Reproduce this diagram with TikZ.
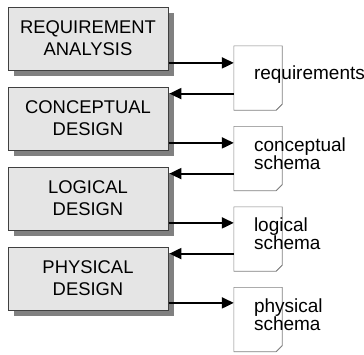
\documentclass[tikz,border=0pt]{standalone}
\usepackage{fontspec}
\setmainfont{Liberation Sans}
\usetikzlibrary{arrows.meta,shadows,calc}

\tikzset{
	phase/.style={draw=black!75, fill=gray!20, line width=0.8pt, minimum width=160pt, minimum height=63pt,
		align=center, font=\fontsize{18.4pt}{22pt}\selectfont, inner sep=0pt,
		drop shadow={shadow xshift=6pt, shadow yshift=-6pt, fill=gray, opacity=1}},
	docpage/.style={minimum width=48pt, minimum height=64pt, inner sep=0pt},
	doctext/.style={anchor=west, align=left, font=\fontsize{19pt}{18pt}\selectfont, inner sep=0pt},
	flow/.style={line width=2pt, -{Triangle[length=12pt,width=11pt]}}
}

\begin{document}
\begin{tikzpicture}[x=1pt,y=-1pt]
	\useasboundingbox (0,0) rectangle (364,354);
	
	\node[phase] (req) at (88,38.5) {REQUIREMENT\\ANALYSIS};
	\node[phase] (con) at (88,118.5) {CONCEPTUAL\\DESIGN};
	\node[phase] (log) at (88,198.5) {LOGICAL\\DESIGN};
	\node[phase] (phy) at (88,278.5) {PHYSICAL\\DESIGN};
	
	\node[docpage] (dreq) at (258,78) {};
	\node[docpage] (dcon) at (258,158.5) {};
	\node[docpage] (dlog) at (258,239) {};
	\node[docpage] (dphy) at (258,319.5) {};
	
	\foreach \d in {dreq,dcon,dlog,dphy}{
		\draw[gray, line width=0.6pt, fill=white] (\d.north west) -- (\d.north east) -- ([yshift=6pt]\d.south east)
			-- ([xshift=-6pt]\d.south east) -- (\d.south west) -- cycle;
		\draw[gray, line width=0.6pt, fill=gray!40] ([yshift=6pt]\d.south east) -- ([xshift=-3pt,yshift=3pt]\d.south east)
			-- ([xshift=-6pt]\d.south east);
	}
	
	\node[doctext] (treq) at ([xshift=20pt,yshift=3pt]dreq.west) {requirements};
	\node[doctext] (tcon) at ([xshift=20pt,yshift=5pt]dcon.west) {conceptual\\schema};
	\node[doctext] (tlog) at ([xshift=20pt,yshift=5pt]dlog.west) {logical\\schema};
	\node[doctext] (tphy) at ([xshift=20pt,yshift=5pt]dphy.west) {physical\\schema};
	
	% outgoing
	\coordinate (oreq) at ([xshift=0.5pt,yshift=7.5pt]req.south east);
	\coordinate (ocon) at ([xshift=0.5pt,yshift=7.5pt]con.south east);
	\coordinate (olog) at ([xshift=0.5pt,yshift=7.5pt]log.south east);
	\coordinate (ophy) at ([xshift=0.5pt,yshift=7.5pt]phy.south east);
	\draw[flow] (oreq) -- (oreq -| dreq.west);
	\draw[flow] (ocon) -- (ocon -| dcon.west);
	\draw[flow] (olog) -- (olog -| dlog.west);
	\draw[flow] (ophy) -- (ophy -| dphy.west);
	
	% back
	\coordinate (icon) at ([xshift=1pt,yshift=-7pt]con.north east);
	\coordinate (ilog) at ([xshift=1pt,yshift=-7pt]log.north east);
	\coordinate (iphy) at ([xshift=1pt,yshift=-7pt]phy.north east);
	\draw[flow] (icon -| dreq.west) -- (icon);
	\draw[flow] (ilog -| dcon.west) -- (ilog);
	\draw[flow] (iphy -| dlog.west) -- (iphy);
\end{tikzpicture}
\end{document}
